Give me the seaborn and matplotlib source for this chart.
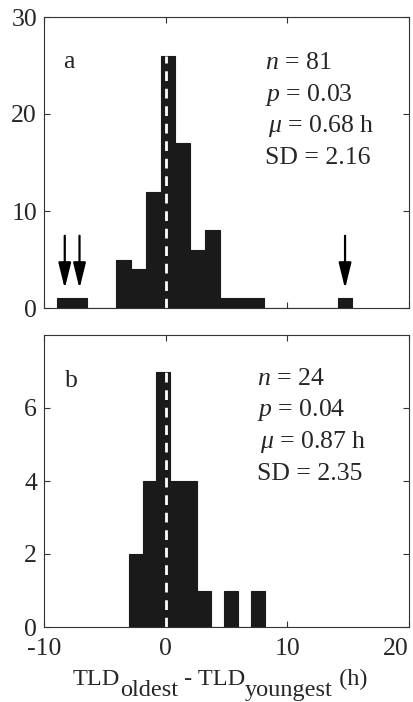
import matplotlib
matplotlib.use("Agg")
import matplotlib.pyplot as plt
import numpy as np
import pandas as pd
import seaborn as sns

sns.set_theme(style="ticks")
plt.rcParams['font.family'] = ['Liberation Serif', 'DejaVu Serif']
plt.rcParams['mathtext.fontset'] = 'custom'
plt.rcParams['mathtext.rm'] = 'Liberation Serif'
plt.rcParams['mathtext.it'] = 'Liberation Serif:italic'
plt.rcParams['axes.unicode_minus'] = False

# panel a: 20 bins between min and max of the differences
edges_a = np.linspace(-8.9, 15.35, 21)
counts_a = [1, 1, 0, 0, 5, 4, 12, 26, 17, 6, 8, 1, 1, 1, 0, 0, 0, 0, 0, 1]
outlier_bins_a = [0, 1, 19]
stats_a = ["$n$ = 81", "$p$ = 0.03", r"$\mu$ = 0.68 h", "SD = 2.16"]

# panel b: 10 bins
edges_b = np.linspace(-2.99, 8.16, 11)
counts_b = [2, 4, 7, 4, 4, 1, 0, 1, 0, 1]
stats_b = ["$n$ = 24", "$p$ = 0.04", r"$\mu$ = 0.87 h", "SD = 2.35"]

bar_col = '#1a1a1a'
fs = 18.5

W, H = 414, 702
fig = plt.figure(figsize=(W / 100, H / 100), dpi=100)
ax_a = fig.add_axes([44 / W, 1 - 308 / H, 365 / W, 291 / H])
ax_b = fig.add_axes([44 / W, 1 - 627 / H, 365 / W, 292 / H])


def draw_panel(ax, edges, counts, label, lab_pos, stats, st_pos, ymax, yticks):
    centers = (edges[:-1] + edges[1:]) / 2
    df = pd.DataFrame({'diff': centers, 'count': counts})
    sns.histplot(data=df, x='diff', weights='count', bins=list(edges), ax=ax,
                 color=bar_col, edgecolor=bar_col, linewidth=0.8, alpha=1)
    # dashed reference line at zero, up to the top of its bin
    k = np.searchsorted(edges, 0) - 1
    ax.vlines(0, 0, counts[k], colors='white', linestyles=(0, (3.5, 2.8)), lw=2)
    ax.set_xlim(-10, 20)
    ax.set_ylim(0, ymax)
    ax.set_yticks(yticks)
    ax.set_xticks([-10, 0, 10, 20])
    ax.set_ylabel("")
    ax.set_xlabel("")
    ax.tick_params(direction='in', top=True, right=True, labelsize=fs,
                   length=4, width=0.8, color='#333333')
    ax.tick_params(axis='y', pad=5)
    ax.tick_params(axis='x', pad=8)
    for s in ax.spines.values():
        s.set_linewidth(0.8)
        s.set_color('#333333')
    ax.text(lab_pos[0], lab_pos[1], label, transform=ax.transAxes, fontsize=fs,
            ha='left', va='baseline')
    for i, t in enumerate(stats):
        dx = 0.008 if t.startswith(r"$\mu") else 0
        ax.text(st_pos[0] + dx, st_pos[1] - i * 0.108, t, transform=ax.transAxes,
                fontsize=fs, ha='left', va='baseline')


draw_panel(ax_a, edges_a, counts_a, "a", (0.052, 0.825), stats_a, (0.605, 0.82),
           30, [0, 10, 20, 30])
draw_panel(ax_b, edges_b, counts_b, "b", (0.058, 0.822), stats_b, (0.584, 0.829),
           8, [0, 2, 4, 6])
ax_a.set_xticklabels([])
ax_b.get_xticklabels()[-1].set_ha('right')

# arrows marking the excluded outliers in panel a
centers_a = (edges_a[:-1] + edges_a[1:]) / 2
for i in outlier_bins_a:
    ax_a.annotate("", xy=(centers_a[i], 2.0), xytext=(centers_a[i], 7.45),
                  arrowprops=dict(arrowstyle='-|>,head_length=1.3,head_width=0.32',
                                  lw=1.6, color='black', shrinkA=0, shrinkB=0))

# x label with full-size subscripts, placed piece by piece
pieces = [("TLD", 0), ("oldest", -11), (" - TLD", 0), ("youngest", -11), (" (h)", 0)]
lab_fs = 17.5
fig.canvas.draw()
rend = fig.canvas.get_renderer()
widths = []
for txt, _ in pieces:
    t = fig.text(0, 0, txt, fontsize=lab_fs)
    widths.append(t.get_window_extent(rend).width)
    t.remove()
x0 = 220 - sum(widths) / 2
base = H - 685
for (txt, off), w in zip(pieces, widths):
    fig.text(x0 / W, (base + off) / H, txt, fontsize=lab_fs, ha='left', va='baseline')
    x0 += w

plt.savefig("out.png", dpi=100)
